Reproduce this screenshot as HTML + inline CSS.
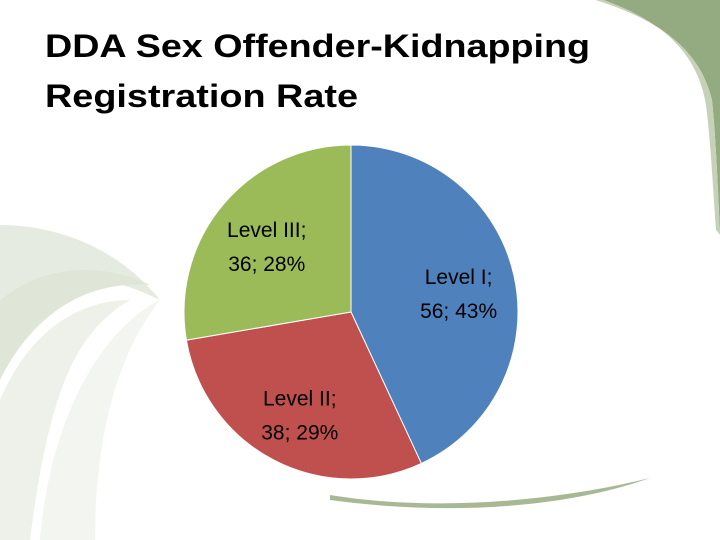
<!DOCTYPE html>
<html><head><meta charset="utf-8"><style>
html,body{margin:0;padding:0;background:#fff;}
svg{display:block;}
</style></head><body>
<svg width="720" height="540" viewBox="0 0 720 540" font-family="'Liberation Sans', sans-serif">
  <g>
    <path d="M596,0 C660,20 700,50 712,100 C716,140 718,190 720,235 L720,0 Z" fill="#94aa80"/>
    <path d="M604,0 C665,22 698,55 706,105 C711,145 713,190 716,230 L720,235 C718,190 716,140 712,100 C700,50 660,20 596,0 Z" fill="#c5d2b8"/>
    <path d="M0,225 C60,225 120,250 160,300 C100,270 40,270 0,300 Z" fill="#e6ebe1"/>
    <path d="M0,300 C50,260 110,265 150,285 C80,280 30,320 0,380 Z" fill="#dfe6d8"/>
    <path d="M0,400 C30,330 80,300 130,300 C80,330 50,380 30,540 L0,540 Z" fill="#eef1ea"/>
    <path d="M40,540 C50,420 100,330 160,300 C120,350 95,430 95,540 Z" fill="#f3f5f0"/>
    <path d="M330,495 C420,510 540,505 650,478 C560,510 440,515 330,500 Z" fill="#a8b894"/>
  </g>
  <g font-weight="bold" font-size="32" fill="#000">
    <text x="45" y="57" textLength="545" lengthAdjust="spacingAndGlyphs">DDA Sex Offender-Kidnapping</text>
    <text x="45" y="107" textLength="313" lengthAdjust="spacingAndGlyphs">Registration Rate</text>
  </g>
  <g id="pie"></g>
</svg>
<script>
const categories = ["Level I", "Level II", "Level III"];
const values = [56, 38, 36];
const percentLabels = ["43%", "29%", "28%"];
const colors = ["#4f81bd", "#c0504d", "#9bbb59"];
const cx = 351, cy = 312, r = 167;
const total = values.reduce((a, b) => a + b, 0);
const g = document.getElementById('pie');
const NS = 'http://www.w3.org/2000/svg';
function pt(a, rr) { return [cx + rr * Math.sin(a), cy - rr * Math.cos(a)]; }
let start = 0;
values.forEach((v, i) => {
  const sweep = v / total * 2 * Math.PI;
  const end = start + sweep;
  const [x1, y1] = pt(start, r), [x2, y2] = pt(end, r);
  const p = document.createElementNS(NS, 'path');
  p.setAttribute('d', `M${cx},${cy} L${x1},${y1} A${r},${r} 0 ${sweep > Math.PI ? 1 : 0} 1 ${x2},${y2} Z`);
  p.setAttribute('fill', colors[i]);
  p.setAttribute('stroke', '#fff');
  p.setAttribute('stroke-width', '1');
  
  
  g.appendChild(p);
  const mid = start + sweep / 2;
  const [lx, ly] = pt(mid, r * 0.66);
  const t = document.createElementNS(NS, 'text');
  t.setAttribute('text-anchor', 'middle');
  t.setAttribute('font-size', '21');
  t.setAttribute('fill', '#000');
  
  
  const s1 = document.createElementNS(NS, 'tspan');
  s1.setAttribute('x', lx); s1.setAttribute('y', ly - 4);
  s1.textContent = categories[i] + ';';
  const s2 = document.createElementNS(NS, 'tspan');
  s2.setAttribute('x', lx); s2.setAttribute('y', ly + 30);
  s2.textContent = v + '; ' + percentLabels[i];
  t.appendChild(s1); t.appendChild(s2);
  g.appendChild(t);
  start = end;
});
</script>
</body></html>
